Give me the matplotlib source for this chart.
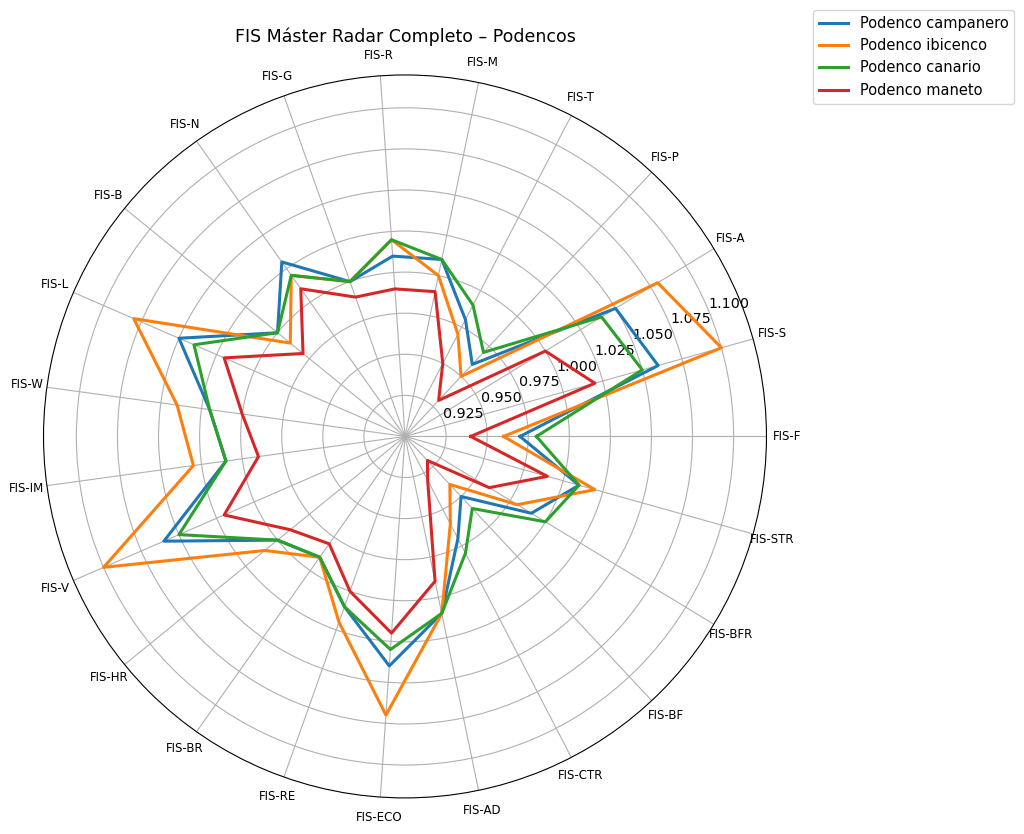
import numpy as np
import matplotlib
matplotlib.use('Agg')
import matplotlib.pyplot as plt

# Categorías del radar (en sentido antihorario desde FIS-F)
CATEGORIAS = ['FIS-F', 'FIS-S', 'FIS-A', 'FIS-P', 'FIS-T', 'FIS-M', 'FIS-R',
              'FIS-G', 'FIS-N', 'FIS-B', 'FIS-L', 'FIS-W', 'FIS-IM', 'FIS-V',
              'FIS-HR', 'FIS-BR', 'FIS-RE', 'FIS-ECO', 'FIS-AD', 'FIS-CTR',
              'FIS-BF', 'FIS-BFR', 'FIS-STR']

RAZAS = ['Podenco campanero', 'Podenco ibicenco', 'Podenco canario',
         'Podenco maneto']

CAMPANERO = [0.97, 1.06, 1.05, 0.96, 0.98, 1.01, 1.01, 1.00, 1.03, 1.00, 1.05,
             1.02, 1.01, 1.06, 1.00, 0.99, 1.01, 1.04, 1.01, 0.97, 0.95, 0.99,
             1.01]
IBICENCO = [0.96, 1.10, 1.08, 0.95, 0.97, 1.00, 1.02, 1.00, 1.02, 0.99, 1.08,
            1.04, 1.03, 1.10, 1.01, 0.99, 1.02, 1.07, 1.01, 0.96, 0.94, 0.98,
            1.02]
CANARIO = [0.98, 1.05, 1.04, 0.97, 0.99, 1.01, 1.02, 1.00, 1.02, 1.00, 1.04,
           1.02, 1.01, 1.05, 1.00, 0.99, 1.01, 1.03, 1.01, 0.98, 0.96, 1.00,
           1.01]
MANETO = [0.94, 1.02, 1.00, 0.93, 0.95, 0.99, 0.99, 0.99, 1.01, 0.98, 1.02,
          1.00, 0.99, 1.02, 0.99, 0.98, 1.00, 1.02, 0.99, 0.93, 0.92, 0.96,
          0.99]


def main():
    series = [CAMPANERO, IBICENCO, CANARIO, MANETO]
    colores = ['tab:blue', 'tab:orange', 'tab:green', 'tab:red']

    # Ángulos de cada eje, cerrando el polígono
    n = len(CATEGORIAS)
    angulos = np.linspace(0, 2 * np.pi, n, endpoint=False).tolist()
    angulos += angulos[:1]

    fig = plt.figure(figsize=(10.24, 8.34), dpi=100)
    ax = fig.add_axes([0.0425, 0.0432, 0.706, 0.867], polar=True)

    for nombre, valores, color in zip(RAZAS, series, colores):
        datos = valores + valores[:1]
        ax.plot(angulos, datos, color=color, linewidth=2.2, label=nombre)

    # Límites radiales: mínimo y máximo con margen de 0.02
    todos = np.concatenate(series)
    ax.set_ylim(todos.min() - 0.02, todos.max() + 0.02)
    ax.set_yticks(np.arange(0.925, 1.1001, 0.025))
    ax.set_yticklabels([f'{v:.3f}' for v in np.arange(0.925, 1.1001, 0.025)],
                       fontsize=10.3)

    ax.set_xticks(angulos[:-1])
    ax.set_xticklabels(CATEGORIAS, fontsize=8.5)
    ax.tick_params(axis='x', pad=4)

    ax.set_title('FIS Máster Radar Completo – Podencos', fontsize=12.5,
                 y=1.045, pad=0)

    fig.legend(loc='upper left', bbox_to_anchor=(813 / 1024, 1 - 10 / 834),
               borderaxespad=0, fontsize=10.5)

    fig.savefig('out.png', dpi=100)


if __name__ == '__main__':
    main()
